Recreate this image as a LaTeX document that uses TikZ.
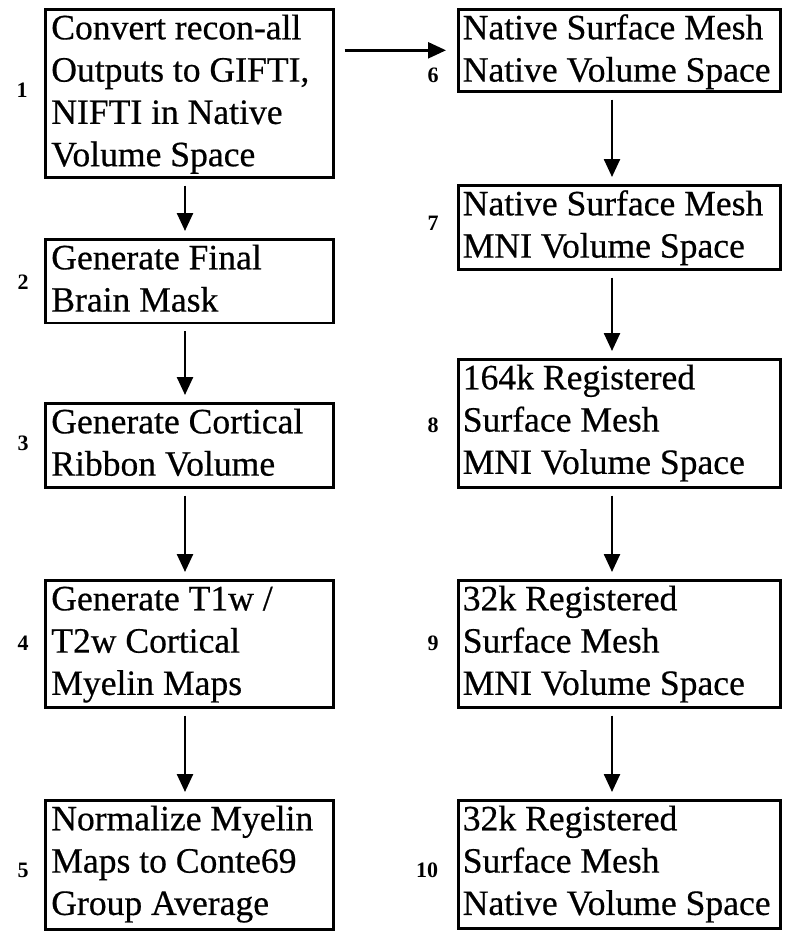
\documentclass[tikz,border=0pt]{standalone}
\usepackage{fontspec}
\setmainfont{Liberation Serif}[UprightFeatures={FakeBold=0.5}]
\usetikzlibrary{arrows.meta}
\newcommand\bxt[4]{\parbox[c][#2][t]{#1}{\raggedright\leftskip=#3\relax\rule{0pt}{30pt}#4}}
\tikzset{
  box/.style={draw, line width=2.6pt, inner sep=0pt, anchor=north west,
    font=\fontsize{35.6}{42.3}\selectfont},
  num/.style={inner sep=0pt, anchor=center, font=\fontsize{22}{26}\selectfont\bfseries},
  arr/.style={line width=2.5pt, -{Triangle[length=18pt,width=16pt]},
    shorten <=7pt, shorten >=7pt}
}
\begin{document}
\begin{tikzpicture}[x=1pt,y=-1pt]
\useasboundingbox (0,0) rectangle (800,940);
% left column
\node[box] (b1) at (44,8) {\bxt{288pt}{168pt}{6pt}{Convert recon-all\\Outputs to GIFTI,\\NIFTI in Native\\Volume Space}};
\node[box] (b2) at (44,238) {\bxt{288pt}{83.5pt}{6pt}{Generate Final\\Brain Mask}};
\node[box] (b3) at (44,402) {\bxt{288pt}{84pt}{6pt}{Generate Cortical\\Ribbon Volume}};
\node[box] (b4) at (44,579) {\bxt{288pt}{127pt}{6pt}{Generate T1w /\\T2w Cortical\\Myelin Maps}};
\node[box] (b5) at (44,799) {\bxt{288pt}{129pt}{6pt}{Normalize Myelin\\Maps to Conte69\\Group Average}};
% right column
\node[box] (b6) at (457,8) {\bxt{322pt}{82pt}{4.5pt}{Native Surface Mesh\\Native Volume Space}};
\node[box] (b7) at (457,184) {\bxt{322pt}{84pt}{4.5pt}{Native Surface Mesh\\MNI Volume Space}};
\node[box] (b8) at (457,358) {\bxt{322pt}{128pt}{4.5pt}{164k Registered\\Surface Mesh\\MNI Volume Space}};
\node[box] (b9) at (457,579) {\bxt{322pt}{127pt}{4.5pt}{32k Registered\\Surface Mesh\\MNI Volume Space}};
\node[box] (b10) at (457,799) {\bxt{322pt}{128pt}{4.5pt}{32k Registered\\Surface Mesh\\Native Volume Space}};
% numbers
\node[num] (n1) at (22,90) {1};
\node[num] (n2) at (23,282) {2};
\node[num] (n3) at (23,443) {3};
\node[num] (n4) at (23,643) {4};
\node[num] (n5) at (23,870) {5};
\node[num] (n6) at (433,75) {6};
\node[num] (n7) at (433,223) {7};
\node[num] (n8) at (433,425) {8};
\node[num] (n9) at (433,643) {9};
\node[num] (n10) at (427,870) {10};
% arrows
\coordinate (lx) at (185,0);
\coordinate (rx) at (612,0);
\draw[arr] (b1.south -| lx) -- (b2.north -| lx);
\draw[arr] (b2.south -| lx) -- (b3.north -| lx);
\draw[arr] (b3.south -| lx) -- (b4.north -| lx);
\draw[arr] (b4.south -| lx) -- (b5.north -| lx);
\draw[arr] (b6.south -| rx) -- (b7.north -| rx);
\draw[arr] (b7.south -| rx) -- (b8.north -| rx);
\draw[arr] (b8.south -| rx) -- (b9.north -| rx);
\draw[arr] (b9.south -| rx) -- (b10.north -| rx);
\draw[arr, shorten <=10pt, shorten >=11pt] (b1.east |- b6.west) -- (b6.west);
\end{tikzpicture}
\end{document}
